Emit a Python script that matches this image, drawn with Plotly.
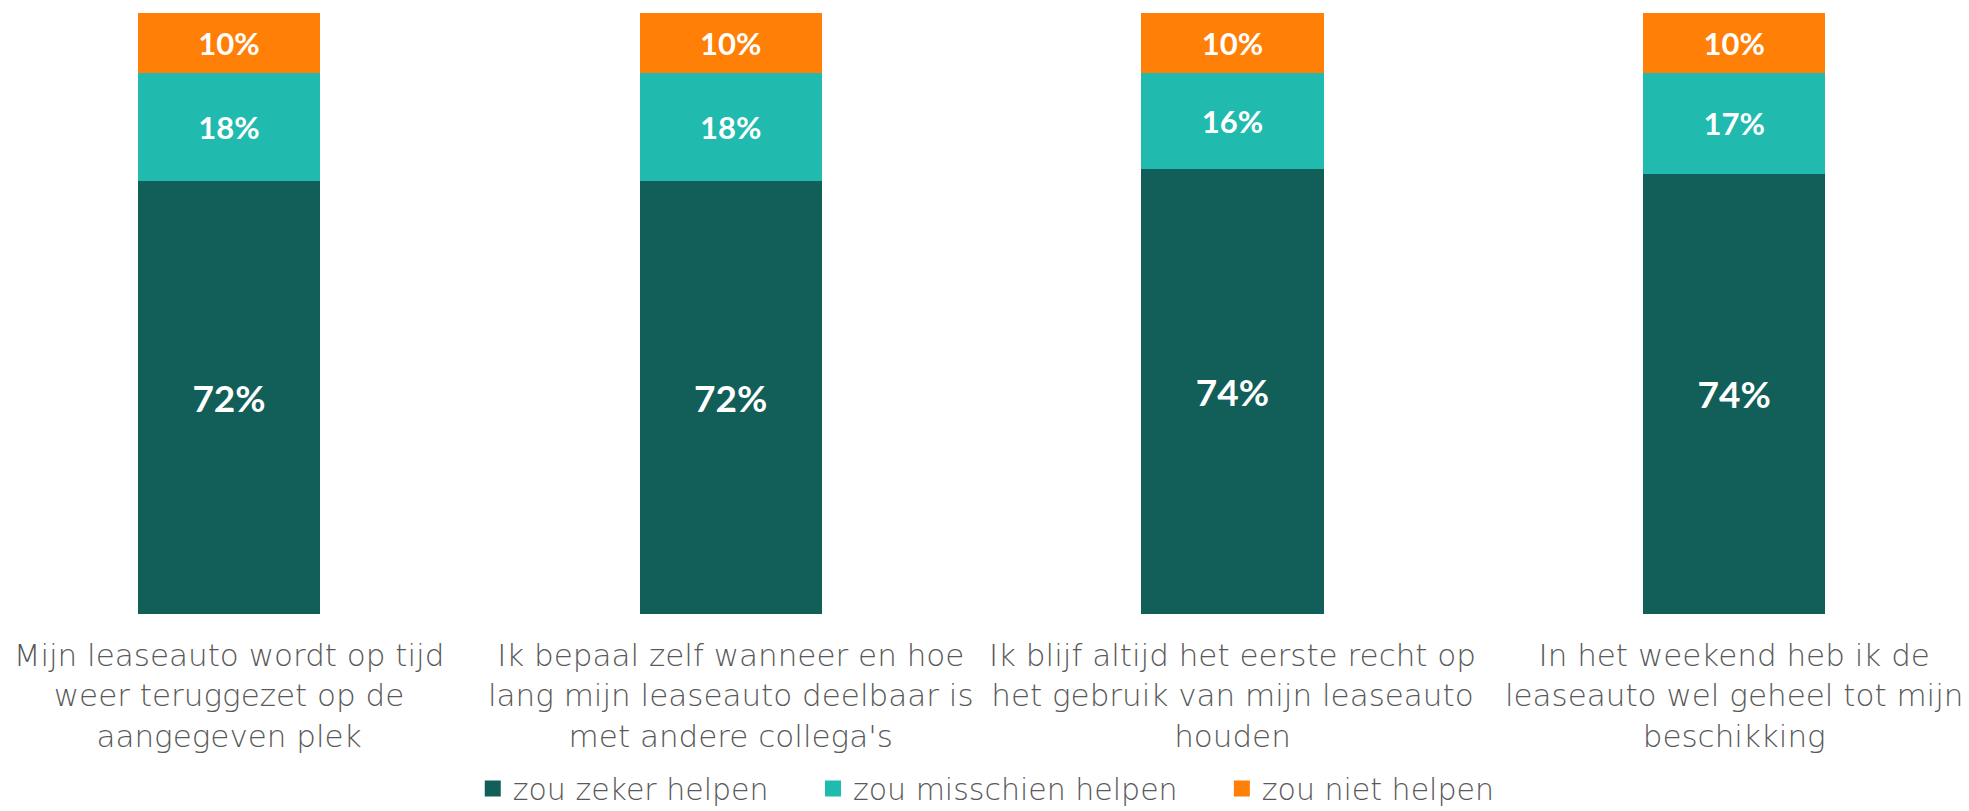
import plotly.graph_objects as go

categories = [
    "Mijn leaseauto wordt op tijd<br>weer teruggezet op de<br>aangegeven plek",
    "Ik bepaal zelf wanneer en hoe<br>lang mijn leaseauto deelbaar is<br>met andere collega's",
    "Ik blijf altijd het eerste recht op<br>het gebruik van mijn leaseauto<br>houden",
    "In het weekend heb ik de<br>leaseauto wel geheel tot mijn<br>beschikking",
]
zeker = [72, 72, 74, 74]
misschien = [18, 18, 16, 17]
niet = [10, 10, 10, 10]

series = [
    ("zou zeker helpen", zeker, "#125E58", 37),
    ("zou misschien helpen", misschien, "#21BAAE", 31),
    ("zou niet helpen", niet, "#FF7F07", 31),
]

LABEL_FONT = "DejaVu Sans"
VALUE_FONT = "Lato"
TEXT_GREY = "#595959"

fig = go.Figure()
for name, vals, color, size in series:
    fig.add_trace(go.Bar(
        x=categories,
        y=vals,
        name=name,
        marker=dict(color=color, line=dict(width=0)),
        width=0.363,
        text=[f"{v}%" for v in vals],
        textposition="inside",
        insidetextanchor="middle",
        textangle=0,
        constraintext="none",
        textfont=dict(family=VALUE_FONT, size=size, color="white", weight="bold"),
        showlegend=False,
    ))

# legend entries with bigger square swatches, one legend per entry
legend_ids = ["legend", "legend2", "legend3"]
legend_x = [0.237, 0.4105, 0.619]
for (name, vals, color, size), lid in zip(series, legend_ids):
    fig.add_trace(go.Scatter(
        x=[None], y=[None],
        mode="markers",
        marker=dict(symbol="square", size=16, color=color),
        name=name,
        legend=lid,
        showlegend=True,
    ))

legend_style = dict(
    orientation="h",
    xanchor="left",
    yref="container",
    y=0.028,
    yanchor="middle",
    font=dict(family=LABEL_FONT, size=30, color=TEXT_GREY, weight=200),
    itemwidth=30,
    bgcolor="rgba(0,0,0,0)",
)

# page has an 8px body margin, so the figure is sized to fit the window
fig.update_layout(
    barmode="stack",
    barnorm="percent",
    width=1961,
    height=803,
    margin=dict(l=0, r=0, t=5, b=197),
    plot_bgcolor="white",
    paper_bgcolor="white",
    font=dict(family=LABEL_FONT, color=TEXT_GREY, size=30),
    xaxis=dict(
        range=[-0.4405, 3.468],
        showgrid=False,
        showline=False,
        zeroline=False,
        ticks="",
        automargin=False,
        tickfont=dict(family=LABEL_FONT, size=31, color=TEXT_GREY, weight=200),
        ticklabelstandoff=20,
    ),
    yaxis=dict(
        range=[0, 100],
        visible=False,
        automargin=False,
    ),
    legend=dict(x=legend_x[0], **legend_style),
    legend2=dict(x=legend_x[1], **legend_style),
    legend3=dict(x=legend_x[2], **legend_style),
    showlegend=True,
)

fig.write_html("out.html")
